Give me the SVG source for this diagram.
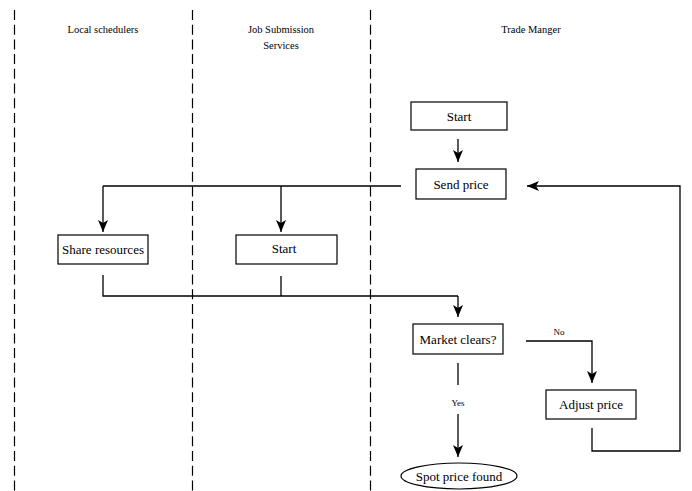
<svg xmlns="http://www.w3.org/2000/svg" width="692" height="491" viewBox="0 0 692 491">
<style>
.lane{stroke:#000;stroke-width:1.2;stroke-dasharray:10,4.7;fill:none}
text{font-family:'Liberation Serif','Times New Roman','DejaVu Serif',serif;fill:#000;text-anchor:middle}
.hdr{font-size:10.5px}
.box{fill:#fff;stroke:#000;stroke-width:1.2}
.t{font-size:13px}
.lbl{font-size:9px}
.c{fill:none;stroke:#000;stroke-width:1.3}
.a{marker-end:url(#ah)}
</style>
<defs>
<marker id="ah" viewBox="0 0 12 10" refX="12" refY="5" markerWidth="12" markerHeight="10" markerUnits="userSpaceOnUse" orient="auto">
<path d="M0,0 L12,5 L0,10 L3,5 Z" fill="#000"/>
</marker>
</defs>
<rect width="692" height="491" fill="#fff"/>
<g id="lanes">
<line class="lane" x1="14.5" y1="10" x2="14.5" y2="491"/>
<line class="lane" x1="192.5" y1="10" x2="192.5" y2="491"/>
<line class="lane" x1="370.5" y1="10" x2="370.5" y2="491"/>
<text class="hdr" x="103" y="33">Local schedulers</text>
<text class="hdr" x="281" y="33">Job Submission</text>
<text class="hdr" x="281" y="49">Services</text>
<text class="hdr" x="531" y="33">Trade Manger</text>
</g>
<g id="connectors">
<path class="c a" d="M458,139 V162"/>
<path class="c" d="M401,186 H103"/>
<path class="c a" d="M103,186 V232"/>
<path class="c a" d="M281,186 V232"/>
<path class="c" d="M103,275 V296 H458"/>
<path class="c" d="M281,276 V296"/>
<path class="c a" d="M458,296 V317"/>
<path class="c a" d="M526,341 H592 V383"/>
<text class="lbl" x="559" y="335">No</text>
<path class="c" d="M458,363 V385"/>
<text class="lbl" x="458" y="406">Yes</text>
<path class="c a" d="M458,414 V457"/>
<path class="c a" d="M592,428 V451 H680 V186 H527"/>
</g>
<g id="start1">
<rect class="box" x="411" y="102" width="96" height="28"/>
<text class="t" x="459" y="121">Start</text>
</g>
<g id="send-price">
<rect class="box" x="416" y="169" width="90" height="30"/>
<text class="t" x="461" y="189">Send price</text>
</g>
<g id="share-resources">
<rect class="box" x="58" y="235" width="90" height="29"/>
<text class="t" x="103" y="254">Share resources</text>
</g>
<g id="start2">
<rect class="box" x="236" y="235" width="101" height="29"/>
<text class="t" x="284" y="253">Start</text>
</g>
<g id="market-clears">
<rect class="box" x="413" y="324" width="90" height="30"/>
<text class="t" x="458" y="344">Market clears?</text>
</g>
<g id="adjust-price">
<rect class="box" x="546" y="390" width="90" height="29"/>
<text class="t" x="591" y="409">Adjust price</text>
</g>
<g id="spot-price">
<ellipse class="box" cx="459" cy="476" rx="58" ry="13"/>
<text class="t" x="459" y="481">Spot price found</text>
</g>
</svg>
